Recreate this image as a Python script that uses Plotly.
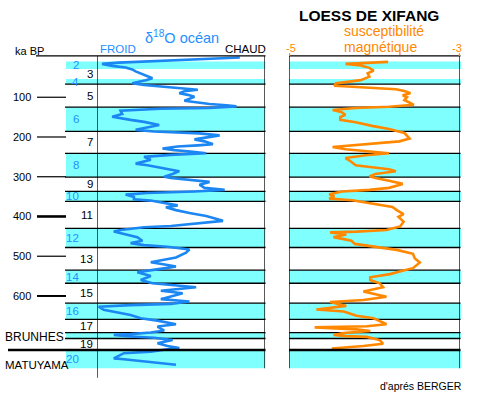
import plotly.graph_objects as go

# ---------------- data ----------------
# marine isotope stages (ka BP)
STAGE_NUM = [2, 3, 4, 5, 6, 7, 8, 9, 10, 11, 12, 13, 14, 15, 16, 17, 18, 19, 20]
STAGE_TOP = [10, 29, 54, 67, 125, 186, 241, 301, 337, 362, 430, 478, 535, 568, 618, 659, 692, 707, 736]
STAGE_BOT = [29, 54, 67, 125, 186, 241, 301, 337, 362, 430, 478, 535, 568, 618, 659, 692, 707, 736, 782]
STAGE_LABEL = ["2", "3", "4", "5", "6", "7", "8", "9", "10", "11", "12", "13", "14", "15", "16", "17", "", "19", "20"]
BOUNDARY_LINES = [67, 125, 186, 241, 301, 337, 362, 430, 478, 535, 568, 618, 659, 692, 707]
BRUNHES_MATUYAMA = 736
AGE_TICKS = [100, 200, 300, 400, 500, 600]
AGE_TICK_LABELS = ["100", "200", "300", "400", "500", "600"]

# delta18O ocean (relative: 0 = FROID, 100 = CHAUD)
BLUE_AGE = [0, 3, 5, 8, 13, 16, 21, 25, 30, 35,
            40, 46, 52, 57, 62, 65, 69, 72, 75, 78,
            81, 85, 90, 94, 99, 109, 114, 117, 120, 123,
            127, 129, 134, 142, 149, 153, 157, 162, 167, 170,
            174, 177, 182, 186, 189, 191, 196, 201, 206, 211,
            218, 221, 224, 229, 233, 237, 241, 245, 250, 257,
            261, 267, 271, 276, 281, 286, 293, 300, 303, 307,
            310, 313, 320, 328, 333, 337, 341, 345, 351, 357,
            360, 366, 369, 372, 377, 384, 391, 399, 411, 417,
            424, 427, 434, 438, 447, 452, 461, 467, 472, 476,
            483, 491, 503, 515, 522, 526, 530, 537, 540, 550,
            560, 568, 572, 578, 583, 587, 593, 600, 608, 614,
            620, 623, 627, 635, 642, 648, 656, 662, 671, 677,
            687, 692, 696, 698, 702, 705, 711, 719, 726, 731,
            734, 740, 744, 757, 759, 764, 768, 773]
BLUE_VAL = [85, 67, 54, 40, 13, 3, 9, 17, 21, 23,
            26, 30, 33, 29, 23, 21, 28, 35, 46, 52,
            60, 52, 49, 54, 58, 52, 60, 67, 77, 83,
            67, 38, 14, 15, 9, 14, 20, 28, 34, 37,
            32, 28, 23, 34, 49, 61, 73, 66, 58, 64,
            69, 60, 48, 39, 46, 57, 65, 44, 28, 32,
            28, 23, 30, 37, 44, 49, 45, 40, 44, 52,
            60, 67, 61, 64, 76, 58, 30, 17, 22, 22,
            32, 40, 44, 48, 41, 47, 55, 65, 75, 61,
            44, 28, 14, 10, 18, 24, 27, 20, 28, 42,
            55, 53, 47, 32, 42, 47, 41, 31, 24, 32,
            26, 33, 45, 59, 47, 38, 51, 45, 38, 55,
            44, 20, 1, 4, 12, 20, 26, 36, 47, 36,
            40, 32, 20, 10, 20, 34, 45, 36, 42, 49,
            42, 32, 16, 10, 16, 26, 36, 47]

# magnetic susceptibility, loess de Xifang (axis -5 .. -3)
ORANGE_AGE = [11, 13, 16, 20, 26, 33, 40, 48, 57, 62,
              65, 71, 75, 77, 80, 85, 90, 95, 100, 107,
              113, 119, 124, 127, 132, 138, 144, 150, 157, 163,
              172, 180, 190, 204, 211, 216, 221, 225, 231, 236,
              241, 246, 253, 261, 271, 276, 281, 286, 293, 299,
              303, 310, 318, 328, 333, 337, 344, 349, 355, 359,
              366, 372, 376, 384, 394, 401, 413, 425, 434, 438,
              440, 445, 452, 457, 461, 469, 476, 484, 494, 505,
              516, 530, 536, 545, 553, 560, 568, 578, 589, 602,
              610, 615, 625, 634, 639, 650, 656, 671, 676, 679,
              684, 688, 693, 698, 701, 703, 711, 720, 726, 732]
ORANGE_VAL = [-3.84, -4.14, -4.34, -4.16, -4.06, -4.01, -4.08, -4.06, -4.16, -4.34,
              -4.45, -4.47, -4.12, -3.95, -3.75, -3.64, -3.58, -3.67, -3.62, -3.65,
              -3.60, -3.54, -3.83, -4.22, -4.49, -4.38, -4.34, -4.40, -4.40, -4.22,
              -4.03, -3.83, -3.65, -3.59, -3.71, -3.99, -4.26, -4.49, -4.34, -4.06,
              -3.83, -4.10, -4.34, -4.28, -4.22, -4.03, -3.83, -3.75, -3.99, -4.06,
              -3.99, -3.83, -3.67, -3.83, -4.06, -4.38, -4.53, -4.47, -4.53, -4.26,
              -4.06, -3.91, -3.79, -3.74, -3.66, -3.72, -3.66, -3.70, -3.86, -4.21,
              -4.52, -4.33, -4.48, -4.36, -4.27, -4.23, -4.01, -3.74, -3.55, -3.53,
              -3.47, -3.55, -3.66, -3.82, -4.05, -4.05, -3.94, -3.90, -4.13, -3.86,
              -4.13, -4.52, -4.33, -4.68, -4.36, -4.21, -4.01, -3.86, -4.09, -4.70,
              -4.21, -4.05, -4.36, -4.48, -4.33, -4.09, -3.94, -3.90, -4.13, -4.50]

# ---------------- styling ----------------
W, H = 478, 393
FONT = "Liberation Sans, Arial, sans-serif"
CYAN = "#80FFFF"
BLUE = "#1C86F2"
BLUE_TXT = "#2490FF"
ORANGE = "#FF8800"

TOP_AGE = -4          # upper frame line
AXIS_BOTTOM = 806     # lower end of the time axis line
PANEL_BOTTOM = 782


def px(x):
    return x / W


def py(y):
    return 1 - y / H


fig = go.Figure()
fig.add_trace(go.Scatter(x=BLUE_VAL, y=BLUE_AGE, mode="lines", xaxis="x", yaxis="y",
                         line=dict(color=BLUE, width=2.6), hoverinfo="skip", showlegend=False))
fig.add_trace(go.Scatter(x=ORANGE_VAL, y=ORANGE_AGE, mode="lines", xaxis="x2", yaxis="y",
                         line=dict(color=ORANGE, width=2.6), hoverinfo="skip", showlegend=False))

shapes = []
# cyan bands for even stages
for n, t, b in zip(STAGE_NUM, STAGE_TOP, STAGE_BOT):
    if n % 2 == 0:
        shapes.append(dict(type="rect", xref="paper", yref="y", x0=px(66), x1=px(265.5), y0=t, y1=b,
                           fillcolor=CYAN, line=dict(width=0), layer="below"))
        shapes.append(dict(type="rect", xref="paper", yref="y", x0=px(289), x1=px(461), y0=t, y1=b,
                           fillcolor=CYAN, line=dict(width=0), layer="below"))
# stage boundary lines
for a in BOUNDARY_LINES:
    shapes.append(dict(type="line", xref="paper", yref="y", x0=px(65), x1=px(265.5), y0=a, y1=a,
                       line=dict(color="black", width=1.3), layer="below"))
    shapes.append(dict(type="line", xref="paper", yref="y", x0=px(289), x1=px(460.5), y0=a, y1=a,
                       line=dict(color="black", width=1.3), layer="below"))
# Brunhes / Matuyama
shapes.append(dict(type="line", xref="paper", yref="y", x0=px(8), x1=px(265.5),
                   y0=BRUNHES_MATUYAMA, y1=BRUNHES_MATUYAMA, line=dict(color="black", width=2.6)))
shapes.append(dict(type="line", xref="paper", yref="y", x0=px(289), x1=px(460.5),
                   y0=BRUNHES_MATUYAMA, y1=BRUNHES_MATUYAMA, line=dict(color="black", width=2.6)))
# top frame lines
shapes.append(dict(type="line", xref="paper", yref="y", x0=px(36), x1=px(265.5), y0=TOP_AGE, y1=TOP_AGE,
                   line=dict(color="black", width=1.3)))
shapes.append(dict(type="line", xref="paper", yref="y", x0=px(289), x1=px(460.5), y0=TOP_AGE, y1=TOP_AGE,
                   line=dict(color="black", width=1.3)))
# vertical frame lines
shapes.append(dict(type="line", xref="x", yref="y", x0=0, x1=0, y0=TOP_AGE, y1=AXIS_BOTTOM,
                   line=dict(color="black", width=1.3)))
shapes.append(dict(type="line", xref="x", yref="y", x0=100, x1=100, y0=TOP_AGE, y1=PANEL_BOTTOM,
                   line=dict(color="black", width=1.3)))
shapes.append(dict(type="line", xref="x2", yref="y", x0=-5, x1=-5, y0=TOP_AGE, y1=PANEL_BOTTOM,
                   line=dict(color="black", width=1.3)))
shapes.append(dict(type="line", xref="x2", yref="y", x0=-3, x1=-3, y0=TOP_AGE, y1=PANEL_BOTTOM,
                   line=dict(color="black", width=1.3)))
# orange end ticks of the susceptibility scale
for v in (-5, -3):
    shapes.append(dict(type="line", xref="x2", yref="y", x0=v, x1=v, y0=TOP_AGE, y1=TOP_AGE - 7,
                       line=dict(color=ORANGE, width=2.5)))
# age ticks
tick_w = {100: 1.2, 200: 1.2, 300: 1.2, 400: 2.6, 500: 1.2, 600: 2.0}
for a in AGE_TICKS:
    shapes.append(dict(type="line", xref="paper", yref="y", x0=px(37), x1=px(66), y0=a, y1=a,
                       line=dict(color="black", width=tick_w[a])))

ann = []


def text(x, y, s, size=11, color="black", xanchor="left", yref="paper", bold=False):
    ann.append(dict(x=x, y=y, xref="paper", yref=yref, text=("<b>%s</b>" % s) if bold else s,
                    showarrow=False, xanchor=xanchor, yanchor="middle",
                    font=dict(family=FONT, size=size, color=color), borderpad=0))


for a, lab in zip(AGE_TICKS, AGE_TICK_LABELS):
    text(px(31.5), a, lab, size=11, xanchor="right", yref="y")
for n, t, b, lab in zip(STAGE_NUM, STAGE_TOP, STAGE_BOT, STAGE_LABEL):
    if not lab:
        continue
    if n % 2 == 0:
        text(px(80), (t + b) / 2, lab, size=11.5, color=BLUE_TXT, xanchor="right", yref="y")
    else:
        text(px(94), (t + b) / 2, lab, size=11.5, color="black", xanchor="right", yref="y")

text(px(14), py(50.5), "ka BP", size=11)
text(px(99), py(49), "FROID", size=11.5, color=BLUE_TXT)
text(px(267), py(49), "CHAUD", size=11.5, xanchor="right")
text(px(182), py(37), "δ<sup>18</sup>O océan", size=14.5, color=BLUE_TXT, xanchor="center")
text(px(369), py(15.5), "LOESS DE XIFANG", size=15.5, xanchor="center", bold=True)
text(px(384), py(31.5), "susceptibilité", size=14, color=ORANGE, xanchor="center")
text(px(380.5), py(46.5), "magnétique", size=14, color=ORANGE, xanchor="center")
text(px(291), py(48.5), "-5", size=11, color=ORANGE, xanchor="center")
text(px(457), py(48.5), "-3", size=11, color=ORANGE, xanchor="center")
text(px(463), py(385.5), "d'aprés BERGER", size=10.5, xanchor="right")
text(px(4), py(337), "BRUNHES", size=12)
text(px(4), py(365), "MATUYAMA", size=11.5)

# age <-> pixel: age = (Y - 57.5) * 2.516
fig.update_layout(
    width=W, height=H, margin=dict(l=0, r=0, t=0, b=0),
    paper_bgcolor="white", plot_bgcolor="rgba(0,0,0,0)",
    xaxis=dict(domain=[px(97), px(265)], range=[0, 100], visible=False, anchor="y"),
    xaxis2=dict(domain=[px(289), px(460)], range=[-5, -3], visible=False, anchor="y"),
    yaxis=dict(domain=[0, 1], range=[(H - 57.5) * 2.516, -57.5 * 2.516], visible=False),
    shapes=shapes, annotations=ann, showlegend=False,
)

fig.write_html("out.html", config={"displayModeBar": False},
               post_script="document.body.style.margin='0';document.body.style.padding='0';")
